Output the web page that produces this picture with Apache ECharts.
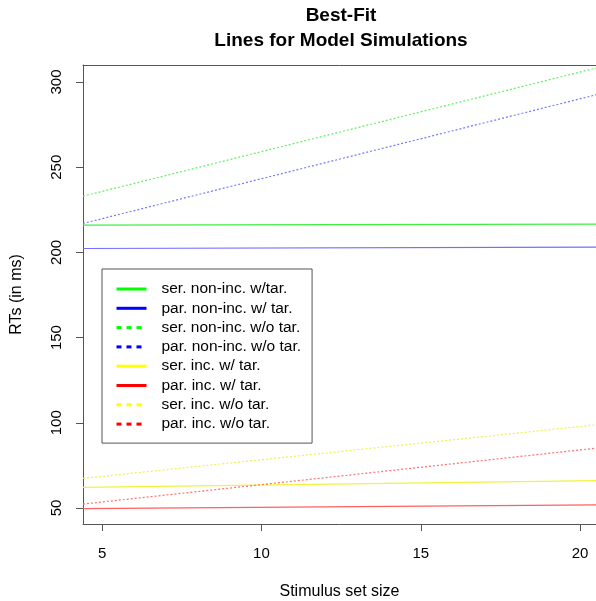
<!DOCTYPE html>
<html>
<head>
<meta charset="utf-8">
<script src="https://cdn.jsdelivr.net/npm/echarts@6/dist/echarts.min.js"></script>
<style>html,body{margin:0;padding:0;background:#fff}#c{width:596px;height:601px}</style>
</head>
<body>
<div id="c"></div>
<script>
// Data (line endpoints at the plot's visible x-range edges)
const xEnds = [4.4, 20.5];
const seriesNames = ['ser. non-inc. w/tar.', 'par. non-inc. w/ tar.', 'ser. non-inc. w/o tar.', 'par. non-inc. w/o tar.',
                     'ser. inc. w/ tar.', 'par. inc. w/ tar.', 'ser. inc. w/o tar.', 'par. inc. w/o tar.'];
const serNonIncWTar = [216.0, 216.6];
const parNonIncWTar = [202.3, 203.1];
const serNonIncWoTar = [233.0, 308.2];
const parNonIncWoTar = [217.0, 292.5];
const serIncWTar = [62.1, 66.0];
const parIncWTar = [49.6, 51.8];
const serIncWoTar = [67.4, 98.8];
const parIncWoTar = [52.3, 85.1];
const xTicks = [5, 10, 15, 20];
const yTicks = [50, 100, 150, 200, 250, 300];

const allValues = [serNonIncWTar, parNonIncWTar, serNonIncWoTar, parNonIncWoTar, serIncWTar, parIncWTar, serIncWoTar, parIncWoTar];
const legendColors = ['#00ff00', '#0000ff', '#00ff00', '#0000ff', '#ffff00', '#ff0000', '#ffff00', '#ff0000'];
const lineColors = ['#40ee40', '#7070ff', '#60f060', '#7878ff', '#f2f240', '#ff6060', '#f0f050', '#ff7070'];
const dotted = [false, false, true, true, false, false, true, true];

const font = 'Liberation Sans, Arial, Helvetica, sans-serif';

const series = seriesNames.map((n, i) => ({
  name: n,
  type: 'line',
  symbol: 'none',
  silent: true,
  animation: false,
  data: xEnds.map((x, j) => [x, allValues[i][j]]),
  lineStyle: { color: lineColors[i], width: 1.2, type: dotted[i] ? [2, 2] : 'solid' },
  itemStyle: { color: legendColors[i] }
}));

const chart = echarts.init(document.getElementById('c'), null, { renderer: 'canvas' });
chart.setOption({
  animation: false,
  backgroundColor: '#fff',
  graphic: [
    { type: 'text', x: 341, y: 16, style: { text: 'Best-Fit', fill: '#000', font: 'bold 19px ' + font, textAlign: 'center', textVerticalAlign: 'middle' } },
    { type: 'text', x: 341, y: 41, style: { text: 'Lines for Model Simulations', fill: '#000', font: 'bold 19px ' + font, textAlign: 'center', textVerticalAlign: 'middle' } }
  ],
  grid: { left: 83, top: 65, right: 0, bottom: 77, show: false, containLabel: false, outerBoundsMode: 'none' },
  legend: {
    orient: 'vertical', left: 102, top: 269,
    padding: [12, 11, 11, 13],
    borderColor: '#555', borderWidth: 1,
    itemWidth: 30, itemHeight: 14, itemGap: 3.3,
    textStyle: { fontFamily: font, fontSize: 15.5, lineHeight: 14, color: '#000', padding: [0, 0, 0, 10] },
    data: seriesNames.map((n, i) => ({
      name: n,
      itemStyle: { color: legendColors[i], opacity: 0, borderWidth: 0 },
      lineStyle: { color: legendColors[i], width: 3, type: dotted[i] ? [5, 5] : 'solid' }
    }))
  },
  xAxis: [{
    type: 'value', min: 4.4, max: 20.5,
    name: 'Stimulus set size', nameLocation: 'middle', nameGap: 60,
    nameTextStyle: { fontFamily: font, fontSize: 16, color: '#000' },
    splitLine: { show: false },
    axisLine: { show: true, onZero: false, lineStyle: { color: '#555' } },
    axisTick: { show: true, length: 7, customValues: xTicks, lineStyle: { color: '#555' } },
    axisLabel: { customValues: xTicks, margin: 22, fontFamily: font, fontSize: 15, color: '#000' }
  }, {
    type: 'value', min: 4.4, max: 20.5, position: 'top',
    splitLine: { show: false },
    axisLine: { show: true, onZero: false, lineStyle: { color: '#555' } },
    axisTick: { show: false }, axisLabel: { show: false }
  }],
  yAxis: {
    type: 'value', min: 40.6, max: 310,
    name: 'RTs (in ms)', nameLocation: 'middle', nameGap: 58, nameRotate: 90,
    nameTextStyle: { fontFamily: font, fontSize: 16, color: '#000' },
    splitLine: { show: false },
    axisLine: { show: true, onZero: false, lineStyle: { color: '#555' } },
    axisTick: { show: true, length: 7, customValues: yTicks, lineStyle: { color: '#555' } },
    axisLabel: { customValues: yTicks, rotate: 90, margin: 26, fontFamily: font, fontSize: 15, color: '#000', align: 'center', verticalAlign: 'middle' }
  },
  series: series
});
</script>
</body>
</html>
